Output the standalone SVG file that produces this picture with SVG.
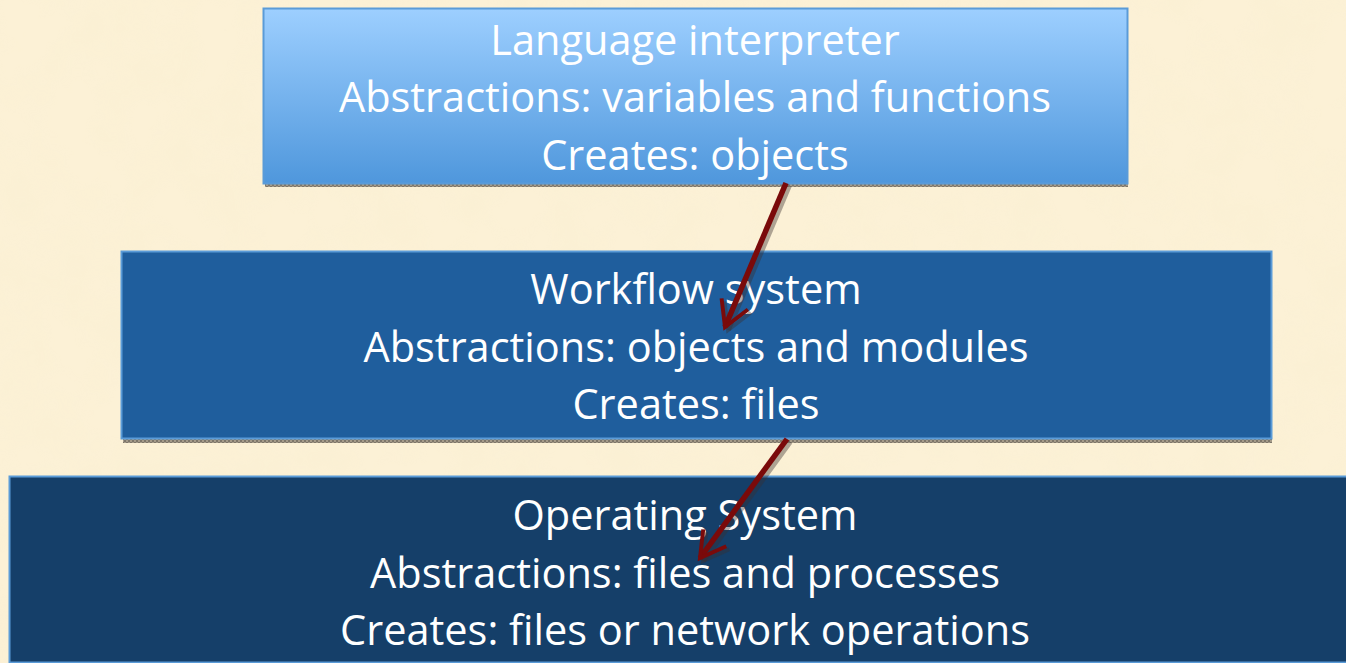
<svg xmlns="http://www.w3.org/2000/svg" width="1346" height="663" viewBox="0 0 1346 663">
<defs>
<linearGradient id="g1" x1="0" y1="0" x2="0" y2="1">
<stop offset="0" stop-color="#9dcfff"/>
<stop offset="1" stop-color="#4f97dc"/>
</linearGradient>
<pattern id="chk" width="4" height="4" patternUnits="userSpaceOnUse">
<rect width="4" height="4" fill="#a49a88"/>
<rect width="2" height="2" fill="#7d766a"/>
<rect x="2" y="2" width="2" height="2" fill="#7d766a"/>
</pattern>
<filter id="tex" x="0" y="0" width="100%" height="100%">
<feTurbulence type="fractalNoise" baseFrequency="0.02" numOctaves="3" seed="4"/>
<feColorMatrix type="matrix" values="0 0 0 0 0.93  0 0 0 0 0.85  0 0 0 0 0.62  0 0 0 1.2 -0.45"/>
</filter>
<marker id="ah" viewBox="0 0 10 10" refX="8.5" refY="5" markerWidth="6.5" markerHeight="6.5" orient="auto" markerUnits="strokeWidth">
<path d="M1.5,1 L8.5,5 L1.5,9" fill="none" stroke="#7a0a0a" stroke-width="1.1" stroke-linejoin="miter"/>
</marker>
<marker id="ahs" viewBox="0 0 10 10" refX="8.5" refY="5" markerWidth="6.5" markerHeight="6.5" orient="auto" markerUnits="strokeWidth">
<path d="M1.5,1 L8.5,5 L1.5,9" fill="none" stroke="#3a3030" stroke-opacity="0.4" stroke-width="1.1"/>
</marker>
</defs>
<style>
.t{font-family:"Open Sans","Noto Sans","Liberation Sans",sans-serif;font-size:41.5px;fill:#ffffff;text-anchor:middle}
.sh{fill:url(#chk)}
.ar{stroke:#7a0a0a;stroke-width:5.5;fill:none;marker-end:url(#ah)}
.ars{stroke:#3a3030;stroke-opacity:0.4;stroke-width:5.5;fill:none;marker-end:url(#ahs)}
</style>
<rect width="1346" height="663" fill="#fcf1d6"/>
<rect width="1346" height="663" filter="url(#tex)" opacity="0.5"/>

<g id="node-language">
<rect class="sh" x="265" y="183" width="863" height="4"/>
<rect x="263.5" y="8.5" width="864" height="175" fill="url(#g1)" stroke="#5a9bd8" stroke-width="2"/>
<text class="t" x="695" y="55">Language interpreter</text>
<text class="t" x="695" y="112">Abstractions: variables and functions</text>
<text class="t" x="695" y="170">Creates: objects</text>
</g>

<g id="node-workflow">
<rect class="sh" x="123" y="439" width="1149" height="4"/>
<rect x="121.5" y="251.5" width="1150" height="187" fill="#1f5e9d" stroke="#5a9bd8" stroke-width="2"/>
<text class="t" x="696" y="304">Workflow system</text>
<text class="t" x="696" y="362">Abstractions: objects and modules</text>
<text class="t" x="696" y="419">Creates: files</text>
</g>

<g id="node-os">
<rect x="9.5" y="476.5" width="1360" height="186" fill="#153f69" stroke="#5a9bd8" stroke-width="2"/>
<text class="t" x="685" y="530">Operating System</text>
<text class="t" x="685" y="588">Abstractions: files and processes</text>
<text class="t" x="685" y="645">Creates: files or network operations</text>
</g>

<g id="connectors">
<line class="ars" x1="789" y1="186" x2="728" y2="330"/>
<line class="ar" x1="786" y1="183" x2="725" y2="327"/>
<line class="ars" x1="790" y1="442" x2="703" y2="561"/>
<line class="ar" x1="787" y1="439" x2="700" y2="558"/>
</g>
</svg>
